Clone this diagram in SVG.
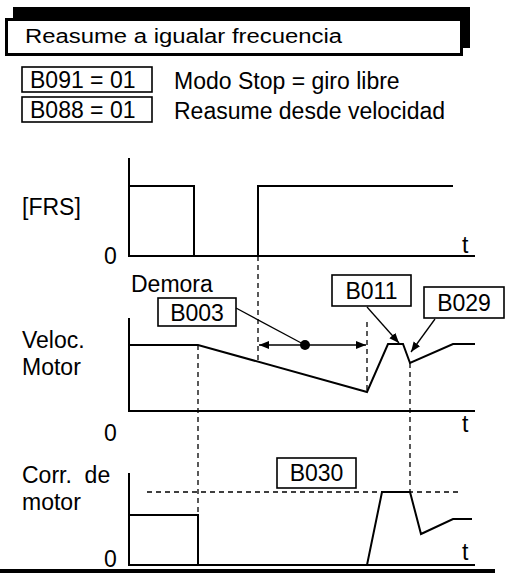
<svg xmlns="http://www.w3.org/2000/svg" width="509" height="575" viewBox="0 0 509 575">
<defs>
<marker id="ah" viewBox="0 0 10 10" refX="10" refY="5" markerWidth="10" markerHeight="10" markerUnits="userSpaceOnUse" orient="auto-start-reverse">
<path d="M0,1 L10,5 L0,9 Z" fill="#000"/>
</marker>
</defs>
<style>
text{font-family:"Liberation Sans",Arial,sans-serif;font-size:23px;fill:#000;white-space:pre}
.box{fill:#fff;stroke:#000;stroke-width:1.6}
.ln{fill:none;stroke:#000;stroke-width:2}
.dash{fill:none;stroke:#000;stroke-width:1.3;stroke-dasharray:5,4}
.thin{fill:none;stroke:#000;stroke-width:1.3}
</style>
<rect width="509" height="575" fill="#fff"/>
<g id="title">
<rect x="13" y="7" width="457" height="41" fill="#000"/>
<rect x="6.5" y="19.5" width="455" height="35" fill="#fff" stroke="#000" stroke-width="3"/>
<text x="25" y="43" style="font-size:20px" textLength="317" lengthAdjust="spacingAndGlyphs">Reasume a igualar frecuencia</text>
</g>
<g id="b091">
<rect class="box" x="22" y="67" width="130" height="25"/>
<text x="30" y="88">B091 = 01</text>
<text x="174" y="89">Modo Stop = giro libre</text>
</g>
<g id="b088">
<rect class="box" x="22" y="97" width="130" height="25"/>
<text x="30" y="118">B088 = 01</text>
<text x="174" y="119">Reasume desde velocidad</text>
</g>
<g id="frs">
<text x="22" y="215">[FRS]</text>
<text x="104" y="264">0</text>
<text x="462" y="253">t</text>
<polyline class="ln" points="129,158 129,256 475,256"/>
<polyline class="ln" points="129,186 194,186 194,256"/>
<polyline class="ln" points="258,256 258,186 453,186"/>
</g>
<g id="veloc">
<text x="131" y="292">Demora</text>
<text x="22" y="348">Veloc.</text>
<text x="22" y="375">Motor</text>
<text x="104" y="441">0</text>
<text x="462" y="432">t</text>
<polyline class="ln" points="129,318 129,411 475,411"/>
<polyline class="ln" points="129,345 198,345 367,392 388,344 403,344 410,363 453,344 475,344"/>
</g>
<g id="corr">
<text x="22" y="483">Corr.  de</text>
<text x="22" y="510">motor</text>
<text x="104" y="567">0</text>
<text x="462" y="560">t</text>
<polyline class="ln" points="129,473 129,565 475,565"/>
<polyline class="ln" points="129,515 198,515 198,565"/>
<polyline class="ln" points="367,565 382,492 410,492 421,534 453,519 472,519"/>
<line x1="0" y1="571" x2="495" y2="571" stroke="#000" stroke-width="4"/>
</g>
<g id="b003">
<rect class="box" x="158" y="298" width="78" height="28"/>
<text x="197" y="321" text-anchor="middle">B003</text>
</g>
<g id="b011">
<rect class="box" x="332" y="275" width="79" height="31"/>
<text x="371.5" y="299" text-anchor="middle">B011</text>
</g>
<g id="b029">
<rect class="box" x="424" y="287" width="80" height="31"/>
<text x="464" y="311" text-anchor="middle">B029</text>
</g>
<g id="b030">
<rect class="box" x="277" y="458" width="79" height="30"/>
<text x="316.5" y="481" text-anchor="middle">B030</text>
</g>
<g id="connectors">
<line class="dash" x1="258" y1="256" x2="258" y2="360"/>
<line class="dash" x1="198" y1="345" x2="198" y2="515"/>
<line class="dash" x1="367" y1="322" x2="367" y2="392"/>
<line class="dash" x1="410" y1="363" x2="410" y2="492"/>
<line class="dash" x1="147" y1="492" x2="460" y2="492"/>
<line class="thin" x1="259" y1="345" x2="366" y2="345" marker-start="url(#ah)" marker-end="url(#ah)"/>
<line class="thin" x1="236" y1="308" x2="305" y2="345"/>
<circle cx="305" cy="345" r="5" fill="#000"/>
<line class="thin" x1="367" y1="307" x2="399" y2="343" marker-end="url(#ah)"/>
<line class="thin" x1="435" y1="319" x2="411" y2="352" marker-end="url(#ah)"/>
</g>
</svg>
